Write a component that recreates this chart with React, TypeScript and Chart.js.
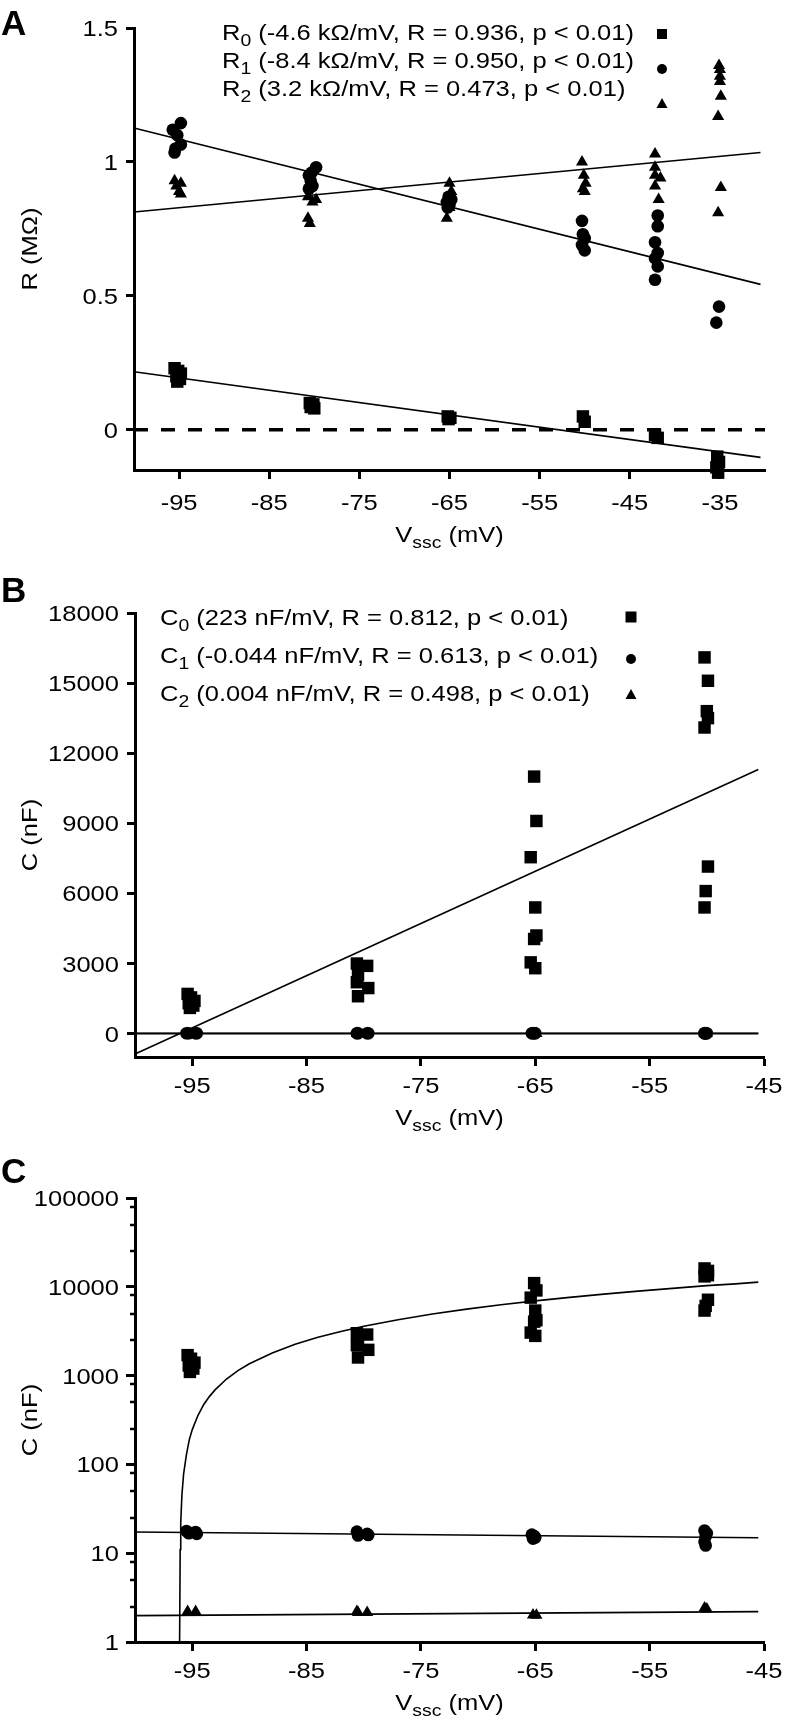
import React, { useEffect, useRef } from 'react';
import { Chart, registerables } from 'chart.js';

Chart.register(...registerables);

// ---------------- Panel A data ----------------
const xTicksA = [-95, -85, -75, -65, -55, -45, -35];
const xLabelsA = ['-95', '-85', '-75', '-65', '-55', '-45', '-35'];
const yTicksA = [0, 0.5, 1, 1.5];
const yLabelsA = ['0', '0.5', '1', '1.5'];

const r0X = [-95.5, -95.1, -94.8, -95.3, -94.9, -95.2, -80.5, -80.1, -80.4, -80.0, -65.2, -64.9, -65.1, -50.2, -50.0, -42.2, -41.9, -35.3, -35.1, -35.4, -35.2];
const r0Y = [0.23, 0.22, 0.21, 0.2, 0.19, 0.18, 0.1, 0.095, 0.085, 0.08, 0.05, 0.045, 0.04, 0.05, 0.03, -0.02, -0.03, -0.1, -0.12, -0.14, -0.16];

const r1X = [-94.8, -95.7, -95.2, -94.8, -95.4, -95.5, -79.8, -80.3, -80.6, -80.4, -80.2, -80.6, -65.1, -64.8, -65.3, -65.0, -65.2, -50.3, -50.2, -50.0, -50.3, -50.0, -41.9, -41.9, -42.2, -41.9, -42.2, -41.9, -42.2, -35.1, -35.4];
const r1Y = [1.145, 1.12, 1.1, 1.065, 1.05, 1.035, 0.98, 0.96, 0.95, 0.93, 0.91, 0.9, 0.87, 0.86, 0.85, 0.84, 0.83, 0.78, 0.73, 0.715, 0.69, 0.67, 0.8, 0.76, 0.7, 0.66, 0.64, 0.61, 0.56, 0.46, 0.4];

const r2X = [-95.5, -94.8, -95.0, -94.8, -95.3, -80.7, -79.8, -80.7, -80.5, -80.2, -65.0, -64.8, -65.2, -65.0, -65.3, -50.3, -50.1, -49.9, -50.2, -50.0, -42.2, -42.2, -42.2, -41.6, -42.2, -41.8, -35.1, -35.0, -35.0, -35.0, -34.9, -35.2, -34.9, -35.2];
const r2Y = [0.93, 0.92, 0.89, 0.88, 0.91, 0.87, 0.86, 0.79, 0.77, 0.85, 0.92, 0.89, 0.86, 0.83, 0.79, 1.0, 0.95, 0.92, 0.9, 0.89, 1.03, 0.98, 0.95, 0.94, 0.91, 0.86, 1.36, 1.345, 1.32, 1.3, 1.245, 1.17, 0.905, 0.81];

const fitXA = [-100, -30.5];
const r0FitY = [0.217, -0.103];
const r1FitY = [1.127, 0.543];
const r2FitY = [0.813, 1.035];
const zeroX = [-100, -30];
const zeroY = [0, 0];

// ---------------- Panels B / C data ----------------
const xTicksBC = [-95, -85, -75, -65, -55, -45];
const xLabelsBC = ['-95', '-85', '-75', '-65', '-55', '-45'];
const yTicksB = [0, 3000, 6000, 9000, 12000, 15000, 18000];
const yLabelsB = ['0', '3000', '6000', '9000', '12000', '15000', '18000'];
const yTicksC = [1, 10, 100, 1000, 10000, 100000];
const yLabelsC = ['1', '10', '100', '1000', '10000', '100000'];
const minorFactorsC = [2.5, 5, 8];

const c0X = [-95.4, -95.1, -94.8, -95.3, -94.9, -95.2, -80.6, -79.7, -80.5, -80.6, -79.6, -80.5, -65.1, -64.9, -65.4, -65.0, -64.9, -65.1, -65.4, -65.0, -50.2, -49.9, -50.0, -49.9, -50.2, -49.9, -50.1, -50.2];
const c0Y = [1700, 1550, 1400, 1300, 1200, 1100, 3000, 2900, 2500, 2200, 1950, 1600, 11000, 9100, 7550, 5400, 4200, 4050, 3050, 2800, 16100, 15100, 13800, 13500, 13100, 7150, 6100, 5400];

const c1X = [-95.5, -95.3, -94.7, -94.6, -80.6, -80.5, -79.7, -79.6, -65.3, -65.1, -65.0, -65.2, -50.2, -50.0, -50.1, -50.2, -50.1];
const c1Y = [17.8, 16.8, 17.3, 16.5, 17.5, 15.8, 16.5, 16.0, 16.2, 15.6, 15.0, 14.6, 18.0, 16.8, 15.5, 13.5, 12.2];

const c2X = [-95.4, -94.7, -80.6, -80.5, -79.7, -65.2, -64.9, -50.2, -50.0];
const c2Y = [2.2, 2.2, 2.2, 2.15, 2.15, 2.02, 2.0, 2.42, 2.35];

const fitXBC = [-100, -45.5];
const c0FitY = [-870, 11300];
const c1FitY = [17.3, 14.9];
const c2FitY = [1.98, 2.2];

// C0 regression as it appears on the log axis
const c0CurveX = [-96.1, -96.05, -96.0, -95.9, -95.75, -95.5, -95.25, -95, -94.5, -94, -93.5, -93, -92, -91, -90, -88, -86, -84, -82, -80, -77, -74, -71, -68, -65, -62, -59, -56, -53, -50, -47.5, -45.5];
const c0CurveY = [1, 11, 22, 45, 78, 130, 190, 245, 355, 470, 580, 690, 915, 1140, 1360, 1800, 2250, 2700, 3140, 3590, 4260, 4930, 5600, 6270, 6940, 7600, 8270, 8940, 9610, 10300, 10800, 11300];

// ---------------- text ----------------
type Seg = { t: string; sub?: boolean };
const legendA: Seg[][] = [
  [{ t: 'R' }, { t: '0', sub: true }, { t: ' (-4.6 kΩ/mV, R = 0.936, p < 0.01)' }],
  [{ t: 'R' }, { t: '1', sub: true }, { t: ' (-8.4 kΩ/mV, R = 0.950, p < 0.01)' }],
  [{ t: 'R' }, { t: '2', sub: true }, { t: ' (3.2 kΩ/mV, R = 0.473, p < 0.01)' }],
];
const legendB: Seg[][] = [
  [{ t: 'C' }, { t: '0', sub: true }, { t: ' (223 nF/mV, R = 0.812, p < 0.01)' }],
  [{ t: 'C' }, { t: '1', sub: true }, { t: ' (-0.044 nF/mV, R = 0.613, p < 0.01)' }],
  [{ t: 'C' }, { t: '2', sub: true }, { t: ' (0.004 nF/mV, R = 0.498, p < 0.01)' }],
];
const xTitle: Seg[] = [{ t: 'V' }, { t: 'ssc', sub: true }, { t: ' (mV)' }];
const yTitleA: Seg[] = [{ t: 'R (MΩ)' }];
const yTitleBC: Seg[] = [{ t: 'C (nF)' }];

const FONT = '"Liberation Sans", Arial, Helvetica, sans-serif';
const HS = 1.16;
const FS = 22;

function rich(ctx: CanvasRenderingContext2D, segs: Seg[], x: number, y: number, size: number, align: string, hs: number, bold = false) {
  ctx.save();
  const sub = size * 0.76;
  const f = (s: number) => `${bold ? 'bold ' : ''}${s}px ${FONT}`;
  let w = 0;
  for (const s of segs) {
    ctx.font = f(s.sub ? sub : size);
    w += ctx.measureText(s.t).width;
  }
  let x0 = align === 'left' ? 0 : align === 'center' ? -w / 2 : -w;
  ctx.translate(x, y);
  ctx.scale(hs, 1);
  ctx.textAlign = 'left';
  ctx.textBaseline = 'alphabetic';
  ctx.fillStyle = '#000';
  for (const s of segs) {
    ctx.font = f(s.sub ? sub : size);
    ctx.fillText(s.t, x0, s.sub ? size * 0.27 : 0);
    x0 += ctx.measureText(s.t).width;
  }
  ctx.restore();
}

function marker(ctx: CanvasRenderingContext2D, kind: string, x: number, y: number, s: number) {
  ctx.save();
  ctx.fillStyle = '#000';
  ctx.beginPath();
  if (kind === 'rect') ctx.rect(x - s / 2, y - s / 2, s, s);
  else if (kind === 'circle') ctx.arc(x, y, s / 2, 0, Math.PI * 2);
  else {
    ctx.moveTo(x, y - s * 0.6);
    ctx.lineTo(x + s * 0.55, y + s * 0.4);
    ctx.lineTo(x - s * 0.55, y + s * 0.4);
    ctx.closePath();
  }
  ctx.fill();
  ctx.restore();
}

const pts = (xs: number[], ys: number[]) => xs.map((x, i) => ({ x, y: ys[i] }));

function pointSet(xs: number[], ys: number[], style: string, r: number) {
  return {
    data: pts(xs, ys), showLine: false, pointStyle: style, pointRadius: r,
    pointBackgroundColor: '#000', pointBorderWidth: 0, pointBorderColor: '#000', clip: false,
  };
}
function lineSet(xs: number[], ys: number[], width = 1.6, dash: number[] = []) {
  return {
    data: pts(xs, ys), showLine: true, pointRadius: 0, borderColor: '#000', borderWidth: width,
    borderDash: dash, tension: 0, clip: false,
  };
}

type Cfg = {
  xMin: number; xMax: number; yMin: number; yMax: number; yType: string;
  xTicks: number[]; xLabels: string[]; yTicks: number[]; yLabels: string[];
  leftW: number; bottomH: number; padTop: number; padRight: number; yTickLen: number;
  letter: string; letterY: number; yTitle: Seg[]; xLabelDy: number; xTitleDy: number;
  legend?: Seg[][]; legendX?: number; legendY?: number[]; legendMX?: number; legendMY?: number[]; legendMS?: number[];
  minors?: boolean;
};

function makeChart(canvas: HTMLCanvasElement, datasets: any[], c: Cfg) {
  const decor = {
    id: 'decor',
    afterDraw(chart: any) {
      const ctx = chart.ctx as CanvasRenderingContext2D;
      const { left, right, top, bottom } = chart.chartArea;
      const xs = chart.scales.x;
      const ys = chart.scales.y;
      c.xTicks.forEach((v, i) => rich(ctx, [{ t: c.xLabels[i] }], xs.getPixelForValue(v), bottom + c.xLabelDy, FS, 'center', HS));
      c.yTicks.forEach((v, i) => rich(ctx, [{ t: c.yLabels[i] }], left - 16, ys.getPixelForValue(v) + 8, FS, 'right', HS));
      if (c.minors) {
        ctx.save();
        ctx.strokeStyle = '#000';
        ctx.lineWidth = 2.5;
        for (let d = 1; d < 100000; d *= 10) {
          for (const f of minorFactorsC) {
            const py = Math.round(ys.getPixelForValue(d * f));
            ctx.beginPath();
            ctx.moveTo(left - 5, py);
            ctx.lineTo(left, py);
            ctx.stroke();
          }
        }
        ctx.restore();
      }
      rich(ctx, xTitle, (left + right) / 2, bottom + c.xTitleDy, FS, 'center', HS);
      ctx.save();
      ctx.translate(37, (top + bottom) / 2);
      ctx.rotate(-Math.PI / 2);
      rich(ctx, c.yTitle, 0, 0, FS, 'center', HS);
      ctx.restore();
      rich(ctx, [{ t: c.letter }], 1, c.letterY, 35, 'left', 1, true);
      if (c.legend) {
        const kinds = ['rect', 'circle', 'triangle'];
        c.legend.forEach((segs, i) => {
          rich(ctx, segs, c.legendX!, c.legendY![i] + 8, FS, 'left', HS);
          marker(ctx, kinds[i], c.legendMX!, c.legendMY![i], c.legendMS![i]);
        });
      }
    },
  };

  const axisCommon = (tl: number) => ({
    grid: { drawOnChartArea: false, drawTicks: true, tickLength: tl, tickWidth: 3, tickColor: '#000', color: '#000' },
    border: { display: true, width: 3, color: '#000' },
    ticks: { display: false },
  });

  return new Chart(canvas, {
    type: 'scatter',
    data: { datasets },
    options: {
      responsive: false,
      maintainAspectRatio: false,
      animation: false,
      devicePixelRatio: 1,
      events: [],
      layout: { padding: { top: c.padTop, right: c.padRight, left: 0, bottom: 0 }, autoPadding: false },
      plugins: { legend: { display: false }, tooltip: { enabled: false }, title: { display: false } },
      scales: {
        x: {
          type: 'linear', position: 'bottom', min: c.xMin, max: c.xMax,
          afterBuildTicks: (s: any) => { s.ticks = c.xTicks.map((v) => ({ value: v })); },
          afterFit: (s: any) => { s.height = c.bottomH; },
          ...axisCommon(9),
        },
        y: {
          type: c.yType, position: 'left', min: c.yMin, max: c.yMax,
          afterBuildTicks: (s: any) => { s.ticks = c.yTicks.map((v) => ({ value: v })); },
          afterFit: (s: any) => { s.width = c.leftW; },
          ...axisCommon(c.yTickLen),
        },
      },
    } as any,
    plugins: [decor],
  });
}

const RECT_R = 8.8;
const CIRC_R = 6.3;
const TRI_R = 7;

export default function App() {
  const refA = useRef<HTMLCanvasElement>(null);
  const refB = useRef<HTMLCanvasElement>(null);
  const refC = useRef<HTMLCanvasElement>(null);

  useEffect(() => {
    document.body.style.margin = '0';
    const charts: Chart[] = [];
    charts.push(makeChart(refA.current!, [
      lineSet(zeroX, zeroY, 3.5, [14, 13]),
      lineSet(fitXA, r0FitY),
      lineSet(fitXA, r1FitY),
      lineSet(fitXA, r2FitY),
      pointSet(r0X, r0Y, 'rect', RECT_R),
      pointSet(r1X, r1Y, 'circle', CIRC_R),
      pointSet(r2X, r2Y, 'triangle', TRI_R),
    ], {
      xMin: -100, xMax: -30, yMin: -0.15, yMax: 1.5, yType: 'linear',
      xTicks: xTicksA, xLabels: xLabelsA, yTicks: yTicksA, yLabels: yLabelsA,
      leftW: 134, bottomH: 90, padTop: 28, padRight: 21, yTickLen: 8,
      letter: 'A', letterY: 35, yTitle: yTitleA, xLabelDy: 40, xTitleDy: 72,
      legend: legendA, legendX: 222, legendY: [32, 60, 88], legendMX: 662, legendMY: [34, 69, 104], legendMS: [10, 10, 10],
    }));
    charts.push(makeChart(refB.current!, [
      lineSet(fitXBC, c0FitY),
      lineSet(fitXBC, c1FitY),
      lineSet(fitXBC, c2FitY),
      pointSet(c0X, c0Y, 'rect', RECT_R),
      pointSet(c2X, c2Y, 'triangle', TRI_R),
      pointSet(c1X, c1Y, 'circle', CIRC_R),
    ], {
      xMin: -100, xMax: -45, yMin: -1000, yMax: 18000, yType: 'linear',
      xTicks: xTicksBC, xLabels: xLabelsBC, yTicks: yTicksB, yLabels: yLabelsB,
      leftW: 135, bottomH: 83, padTop: 53, padRight: 22, yTickLen: 8,
      letter: 'B', letterY: 42, yTitle: yTitleBC, xLabelDy: 36, xTitleDy: 68,
      legend: legendB, legendX: 160, legendY: [57, 95, 133], legendMX: 631, legendMY: [57, 99, 135], legendMS: [11, 10, 10],
    }));
    charts.push(makeChart(refC.current!, [
      lineSet(c0CurveX, c0CurveY),
      lineSet(fitXBC, c1FitY),
      lineSet(fitXBC, c2FitY),
      pointSet(c0X, c0Y, 'rect', RECT_R),
      pointSet(c1X, c1Y, 'circle', CIRC_R),
      pointSet(c2X, c2Y, 'triangle', TRI_R),
    ], {
      xMin: -100, xMax: -45, yMin: 1, yMax: 100000, yType: 'logarithmic',
      xTicks: xTicksBC, xLabels: xLabelsBC, yTicks: yTicksC, yLabels: yLabelsC,
      leftW: 135, bottomH: 82, padTop: 58, padRight: 22, yTickLen: 9,
      letter: 'C', letterY: 43, yTitle: yTitleBC, xLabelDy: 36, xTitleDy: 68, minors: true,
    }));
    return () => charts.forEach((ch) => ch.destroy());
  }, []);

  return (
    <div style={{ position: 'absolute', left: 0, top: 0, width: 786, height: 1724, background: '#fff' }}>
      <canvas ref={refA} width={786} height={560} style={{ position: 'absolute', left: 0, top: 0, width: 786, height: 560 }} />
      <canvas ref={refB} width={786} height={580} style={{ position: 'absolute', left: 0, top: 560, width: 786, height: 580 }} />
      <canvas ref={refC} width={786} height={584} style={{ position: 'absolute', left: 0, top: 1140, width: 786, height: 584 }} />
    </div>
  );
}
